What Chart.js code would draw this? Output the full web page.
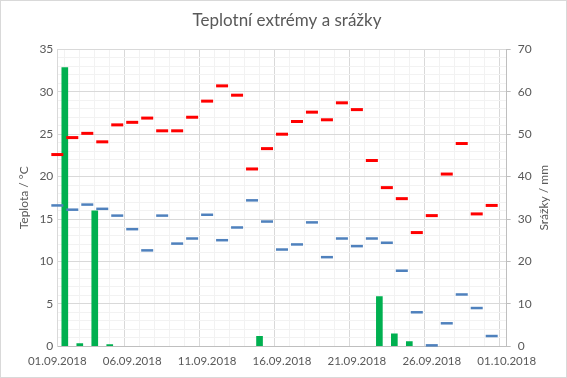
<!DOCTYPE html>
<html>
<head>
<meta charset="utf-8">
<script src="https://cdn.jsdelivr.net/npm/chart.js@4"></script>
<style>
  body { margin: 0; background: #fff; }
  canvas { display: block; }
</style>
</head>
<body>
<canvas id="chart" width="567" height="378"></canvas>
<script>
const dates = ['01.09.2018', '02.09.2018', '03.09.2018', '04.09.2018', '05.09.2018', '06.09.2018',
  '07.09.2018', '08.09.2018', '09.09.2018', '10.09.2018', '11.09.2018', '12.09.2018', '13.09.2018',
  '14.09.2018', '15.09.2018', '16.09.2018', '17.09.2018', '18.09.2018', '19.09.2018', '20.09.2018',
  '21.09.2018', '22.09.2018', '23.09.2018', '24.09.2018', '25.09.2018', '26.09.2018', '27.09.2018',
  '28.09.2018', '29.09.2018', '30.09.2018', '01.10.2018'];

// denni maxima / minima teploty (°C)
const tMax = [22.6, 24.6, 25.1, 24.1, 26.1, 26.4, 26.9, 25.4, 25.4, 27.0,
  28.9, 30.7, 29.6, 20.9, 23.3, 25.0, 26.5, 27.6, 26.7, 28.7,
  27.9, 21.9, 18.7, 17.4, 13.4, 15.4, 20.3, 23.9, 15.6, 16.6];
const tMin = [16.6, 16.1, 16.7, 16.2, 15.4, 13.8, 11.3, 15.4, 12.1, 12.7,
  15.5, 12.5, 14.0, 17.2, 14.7, 11.4, 12.0, 14.6, 10.5, 12.7,
  11.8, 12.7, 12.2, 8.9, 4.0, 0.1, 2.7, 6.1, 4.5, 1.2];
// srazky (mm)
const srazky = [65.7, 0.6, 31.9, 0.4, 0, 0, 0, 0, 0, 0,
  0, 0, 0, 2.3, 0, 0, 0, 0, 0, 0,
  0, 11.7, 2.9, 1.1, 0, 0, 0, 0, 0, 0];

const FONT = 'Lato, "Open Sans", sans-serif';
const TXT = '#595959';

const frame = {
  id: 'frame',
  beforeDraw(chart) {
    const ctx = chart.ctx;
    ctx.save();
    ctx.fillStyle = '#fff';
    ctx.fillRect(0, 0, chart.width, chart.height);
    ctx.strokeStyle = '#d9d9d9';
    ctx.lineWidth = 1;
    ctx.strokeRect(0.5, 0.5, chart.width - 1, chart.height - 1);
    ctx.restore();
  },
  afterDraw(chart) {
    // titulek prave osy cteny zdola nahoru (jako v Excelu)
    const a = chart.chartArea;
    const ctx = chart.ctx;
    ctx.save();
    ctx.translate(chart.width - 23, (a.top + a.bottom) / 2);
    ctx.rotate(-Math.PI / 2);
    ctx.font = '12px ' + FONT;
    ctx.fillStyle = TXT;
    ctx.textAlign = 'center';
    ctx.textBaseline = 'middle';
    ctx.fillText('Srážky / mm', 0, 0);
    ctx.restore();
  }
};

const gridCol = (ctx) => (ctx.tick && ctx.tick.value % 5 === 0) ? '#d9d9d9' : '#f2f2f2';

new Chart(document.getElementById('chart'), {
  data: {
    datasets: [
      {
        type: 'scatter',
        label: 'max',
        data: tMax.map((v, i) => ({ x: i, y: v })),
        pointStyle: 'line',
        pointRadius: 6,
        pointHoverRadius: 6,
        borderColor: '#ff0000',
        borderWidth: 3,
        yAxisID: 'y',
        clip: false,
      },
      {
        type: 'scatter',
        label: 'min',
        data: tMin.map((v, i) => ({ x: i, y: v })),
        pointStyle: 'line',
        pointRadius: 6,
        pointHoverRadius: 6,
        borderColor: '#4f81bd',
        borderWidth: 2.5,
        yAxisID: 'y',
        clip: false,
      },
      {
        type: 'bar',
        label: 'srážky',
        data: srazky.map((v, i) => ({ x: i + 0.5, y: v === 0 ? null : v })),
        backgroundColor: '#00b050',
        barThickness: 6,
        yAxisID: 'y1',
      },
    ],
  },
  options: {
    responsive: false,
    animation: false,
    devicePixelRatio: 1,
    layout: { padding: { left: 13, right: 6, top: 0, bottom: 2 } },
    plugins: {
      legend: { display: false },
      tooltip: { enabled: false },
      title: {
        display: true,
        text: 'Teplotní extrémy a srážky',
        color: TXT,
        font: { family: FONT, size: 17, weight: 'normal' },
        padding: { top: 10, bottom: 19 },
      },
    },
    scales: {
      x: {
        type: 'linear',
        min: 0,
        max: 30,
        offset: false,
        grid: { color: gridCol, drawTicks: false },
        border: { color: '#bfbfbf' },
        ticks: {
          stepSize: 1,
          autoSkip: false,
          maxRotation: 0,
          padding: 8,
          color: TXT,
          font: { family: FONT, size: 11.5 },
          callback: (v) => (v % 5 === 0 ? dates[v] : ''),
        },
      },
      y: {
        position: 'left',
        min: 0,
        max: 35,
        grid: { color: gridCol, drawTicks: false },
        border: { color: '#d9d9d9' },
        ticks: {
          stepSize: 1,
          autoSkip: false,
          padding: 4,
          color: TXT,
          font: { family: FONT, size: 12 },
          callback: (v) => (v % 5 === 0 ? v : ''),
        },
        title: {
          display: true,
          text: 'Teplota / °C',
          color: TXT,
          font: { family: FONT, size: 12 },
          padding: 4,
        },
      },
      y1: {
        position: 'right',
        min: 0,
        max: 70,
        grid: { drawOnChartArea: false, color: '#bfbfbf', tickLength: 4 },
        border: { color: '#bfbfbf' },
        ticks: {
          stepSize: 10,
          autoSkip: false,
          padding: 7,
          color: TXT,
          font: { family: FONT, size: 12 },
        },
        title: {
          display: true,
          text: 'Srážky / mm',
          color: 'rgba(0,0,0,0)',
          font: { family: FONT, size: 12 },
          padding: 4,
        },
      },
    },
  },
  plugins: [frame],
});
</script>
</body>
</html>
